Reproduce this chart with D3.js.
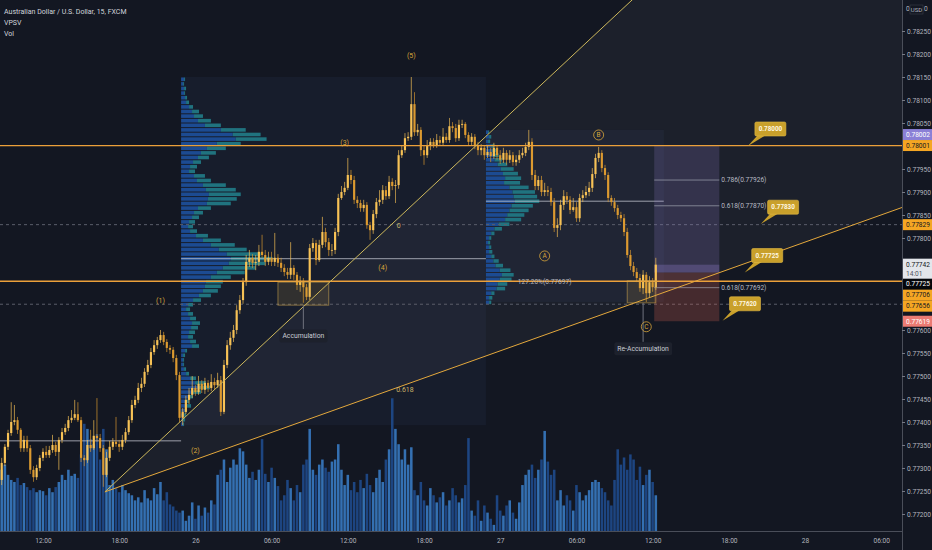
<!DOCTYPE html>
<html><head><meta charset="utf-8">
<script src="https://cdn.jsdelivr.net/npm/d3@7"></script>
<style>html,body{margin:0;padding:0;background:#131722;}svg{display:block;font-family:Roboto,"Noto Sans",sans-serif;}</style>
</head><body>
<svg id="c" width="932" height="550"></svg>
<script>
// ---------------- DATA ----------------
const symbolTitle = "Australian Dollar / U.S. Dollar, 15, FXCM";
const indicatorNames = ["VPSV", "Vol"];
const firstBar = "2021-05-25 08:45"; // 15-minute bars
const openP = [0.77274,0.77311,0.77346,0.77376,0.77400,0.77404,0.77383,0.77343,0.77361,0.77343,
0.77296,0.77280,0.77300,0.77322,0.77335,0.77328,0.77339,0.77350,0.77335,0.77361,
0.77378,0.77387,0.77404,0.77409,0.77417,0.77404,0.77322,0.77317,0.77350,0.77343,
0.77370,0.77365,0.77343,0.77285,0.77322,0.77346,0.77357,0.77352,0.77346,0.77361,
0.77378,0.77404,0.77437,0.77448,0.77474,0.77483,0.77509,0.77524,0.77552,0.77567,
0.77578,0.77589,0.77574,0.77561,0.77557,0.77539,0.77502,0.77409,0.77422,0.77448,
0.77459,0.77474,0.77465,0.77483,0.77470,0.77485,0.77474,0.77487,0.77480,0.77491,
0.77422,0.77524,0.77567,0.77583,0.77600,0.77643,0.77665,0.77704,0.77748,0.77757,
0.77746,0.77748,0.77770,0.77763,0.77748,0.77757,0.77748,0.77757,0.77746,0.77735,
0.77726,0.77720,0.77735,0.77720,0.77698,0.77707,0.77693,0.77672,0.77778,0.77789,
0.77752,0.77785,0.77813,0.77791,0.77774,0.77774,0.77813,0.77887,0.77900,0.77909,
0.77937,0.77926,0.77883,0.77876,0.77865,0.77872,0.77828,0.77817,0.77852,0.77878,
0.77883,0.77904,0.77891,0.77922,0.77913,0.77915,0.77980,0.77991,0.78017,0.78020,
0.78091,0.78030,0.78035,0.77991,0.77980,0.78002,0.78009,0.78002,0.78013,0.78007,
0.78020,0.78013,0.78043,0.78039,0.78017,0.78046,0.78048,0.78024,0.78009,0.78020,
0.78002,0.77991,0.77996,0.77980,0.77987,0.77978,0.77996,0.77980,0.77970,0.77985,
0.77970,0.77980,0.77965,0.77970,0.77980,0.77985,0.77998,0.78009,0.77937,0.77913,
0.77926,0.77900,0.77904,0.77900,0.77878,0.77822,0.77828,0.77872,0.77891,0.77883,
0.77861,0.77867,0.77843,0.77887,0.77893,0.77900,0.77909,0.77939,0.77974,0.77985,
0.77952,0.77937,0.77887,0.77878,0.77865,0.77850,0.77843,0.77813,0.77763,0.77739,
0.77726,0.77713,0.77691,0.77720,0.77680,0.77704,0.77693];
const highP = [0.77322,0.77352,0.77383,0.77443,0.77437,0.77411,0.77387,0.77370,0.77370,0.77350,
0.77304,0.77307,0.77328,0.77343,0.77348,0.77348,0.77372,0.77357,0.77367,0.77387,
0.77396,0.77413,0.77426,0.77448,0.77443,0.77411,0.77328,0.77361,0.77383,0.77404,
0.77452,0.77374,0.77350,0.77335,0.77359,0.77365,0.77411,0.77361,0.77372,0.77387,
0.77413,0.77448,0.77457,0.77485,0.77496,0.77517,0.77535,0.77561,0.77578,0.77585,
0.77600,0.77596,0.77580,0.77567,0.77563,0.77546,0.77509,0.77430,0.77457,0.77474,
0.77500,0.77480,0.77500,0.77491,0.77496,0.77491,0.77504,0.77496,0.77507,0.77500,
0.77535,0.77578,0.77596,0.77611,0.77654,0.77676,0.77713,0.77763,0.77774,0.77765,
0.77763,0.77785,0.77807,0.77774,0.77770,0.77770,0.77811,0.77765,0.77757,0.77743,
0.77735,0.77791,0.77741,0.77726,0.77717,0.77713,0.77700,0.77787,0.77800,0.77796,
0.77796,0.77846,0.77822,0.77800,0.77787,0.77822,0.77896,0.77913,0.77922,0.77974,
0.77948,0.77935,0.77891,0.77883,0.77883,0.77878,0.77835,0.77861,0.77887,0.77904,
0.77915,0.77913,0.77935,0.77930,0.77926,0.77991,0.78000,0.78028,0.78030,0.78150,
0.78117,0.78048,0.78041,0.78002,0.78013,0.78017,0.78017,0.78026,0.78022,0.78039,
0.78028,0.78061,0.78052,0.78048,0.78057,0.78057,0.78052,0.78030,0.78028,0.78026,
0.78009,0.78004,0.78002,0.78000,0.77996,0.78007,0.78000,0.77991,0.77996,0.77991,
0.77991,0.77987,0.77980,0.77991,0.77996,0.78007,0.78035,0.78017,0.77948,0.77935,
0.77935,0.77920,0.77913,0.77909,0.77887,0.77843,0.77883,0.77904,0.77900,0.77891,
0.77887,0.77878,0.77896,0.77904,0.77913,0.77922,0.77952,0.77983,0.77998,0.77991,
0.77959,0.77943,0.77893,0.77887,0.77872,0.77857,0.77852,0.77822,0.77774,0.77748,
0.77735,0.77722,0.77730,0.77726,0.77717,0.77713,0.77757];
const lowP = [0.77263,0.77304,0.77339,0.77370,0.77393,0.77374,0.77335,0.77335,0.77335,0.77287,
0.77270,0.77274,0.77293,0.77315,0.77322,0.77322,0.77333,0.77326,0.77296,0.77354,
0.77372,0.77380,0.77398,0.77404,0.77400,0.77313,0.77304,0.77311,0.77335,0.77339,
0.77357,0.77335,0.77259,0.77280,0.77315,0.77339,0.77346,0.77335,0.77339,0.77354,
0.77372,0.77398,0.77430,0.77441,0.77465,0.77476,0.77502,0.77517,0.77546,0.77559,
0.77572,0.77567,0.77552,0.77548,0.77530,0.77491,0.77400,0.77393,0.77417,0.77439,
0.77452,0.77457,0.77459,0.77463,0.77461,0.77465,0.77467,0.77470,0.77474,0.77413,
0.77417,0.77517,0.77557,0.77574,0.77591,0.77635,0.77657,0.77696,0.77737,0.77735,
0.77730,0.77739,0.77757,0.77739,0.77741,0.77739,0.77739,0.77737,0.77726,0.77717,
0.77711,0.77711,0.77709,0.77687,0.77683,0.77659,0.77665,0.77665,0.77770,0.77741,
0.77748,0.77778,0.77780,0.77761,0.77761,0.77765,0.77804,0.77883,0.77893,0.77904,
0.77917,0.77874,0.77865,0.77857,0.77857,0.77820,0.77796,0.77809,0.77843,0.77870,
0.77874,0.77883,0.77885,0.77904,0.77876,0.77907,0.77974,0.77985,0.78011,0.78013,
0.78022,0.78022,0.77978,0.77959,0.77974,0.77991,0.77996,0.77996,0.78000,0.78000,
0.78007,0.78007,0.78030,0.78009,0.78011,0.78039,0.78017,0.78002,0.78000,0.77993,
0.77980,0.77980,0.77970,0.77974,0.77965,0.77972,0.77970,0.77961,0.77963,0.77959,
0.77963,0.77957,0.77957,0.77963,0.77974,0.77978,0.77991,0.77926,0.77904,0.77904,
0.77891,0.77891,0.77891,0.77870,0.77813,0.77802,0.77817,0.77861,0.77874,0.77852,
0.77857,0.77835,0.77835,0.77878,0.77887,0.77891,0.77900,0.77930,0.77965,0.77943,
0.77926,0.77878,0.77870,0.77857,0.77841,0.77835,0.77804,0.77757,0.77730,0.77717,
0.77704,0.77683,0.77678,0.77661,0.77670,0.77683,0.77687];
const closeP = [0.77311,0.77346,0.77376,0.77400,0.77404,0.77383,0.77343,0.77361,0.77343,0.77296,
0.77280,0.77300,0.77322,0.77335,0.77328,0.77339,0.77350,0.77335,0.77361,0.77378,
0.77387,0.77404,0.77409,0.77417,0.77404,0.77322,0.77317,0.77350,0.77343,0.77370,
0.77365,0.77343,0.77285,0.77322,0.77346,0.77357,0.77352,0.77346,0.77361,0.77378,
0.77404,0.77437,0.77448,0.77474,0.77483,0.77509,0.77524,0.77552,0.77567,0.77578,
0.77589,0.77574,0.77561,0.77557,0.77539,0.77502,0.77409,0.77422,0.77448,0.77459,
0.77474,0.77465,0.77483,0.77470,0.77485,0.77474,0.77487,0.77480,0.77491,0.77422,
0.77524,0.77567,0.77583,0.77600,0.77643,0.77665,0.77704,0.77748,0.77757,0.77746,
0.77748,0.77770,0.77763,0.77748,0.77757,0.77748,0.77757,0.77746,0.77735,0.77726,
0.77720,0.77735,0.77720,0.77698,0.77707,0.77693,0.77672,0.77778,0.77789,0.77752,
0.77785,0.77813,0.77791,0.77774,0.77774,0.77813,0.77887,0.77900,0.77909,0.77937,
0.77926,0.77883,0.77876,0.77865,0.77872,0.77828,0.77817,0.77852,0.77878,0.77883,
0.77904,0.77891,0.77922,0.77913,0.77915,0.77980,0.77991,0.78017,0.78020,0.78091,
0.78030,0.78035,0.77991,0.77980,0.78002,0.78009,0.78002,0.78013,0.78007,0.78020,
0.78013,0.78043,0.78039,0.78017,0.78046,0.78048,0.78024,0.78009,0.78020,0.78002,
0.77991,0.77996,0.77980,0.77987,0.77978,0.77996,0.77980,0.77970,0.77985,0.77970,
0.77980,0.77965,0.77970,0.77980,0.77985,0.77998,0.78009,0.77937,0.77913,0.77926,
0.77900,0.77904,0.77900,0.77878,0.77822,0.77828,0.77872,0.77891,0.77883,0.77861,
0.77867,0.77843,0.77887,0.77893,0.77900,0.77909,0.77939,0.77974,0.77985,0.77952,
0.77937,0.77887,0.77878,0.77865,0.77850,0.77843,0.77813,0.77763,0.77739,0.77726,
0.77713,0.77691,0.77720,0.77680,0.77704,0.77693,0.77742];
const volume = [600,650,550,500,480,520,450,470,430,400,420,380,400,390,350,420,380,430,480,550,
500,600,540,560,520,750,1050,1000,900,850,950,700,1000,800,450,500,420,380,450,400,
370,350,300,330,280,400,320,300,420,360,480,300,380,260,240,200,180,200,100,150,
280,120,250,150,230,180,300,260,550,600,700,480,620,700,650,810,780,650,520,580,
500,600,900,560,480,620,520,440,300,350,500,420,300,450,380,650,700,1000,600,550,
650,700,620,580,680,700,850,600,450,550,400,480,380,500,420,560,450,380,520,600,
480,700,800,1300,1000,850,700,800,650,820,400,350,480,300,250,420,350,280,330,380,
250,300,420,350,280,320,450,910,200,150,300,100,250,180,120,60,350,200,150,250,
300,180,120,280,450,550,600,650,520,600,700,980,680,550,600,300,400,250,350,300,
200,450,380,300,350,400,480,500,480,420,380,300,250,500,800,650,720,600,750,700,
500,630,450,550,600,480,350];

// Session volume profiles (rows of 1 pip from session high downwards)
const sessionStart = [57, 153];
const sessionEnd = [152, 206];
const vpRowStep = 0.0001;
const vp1Total = [4,3,5,4,6,8,12,18,22,30,40,65,80,86,60,45,35,28,20,16,14,24,30,45,55,60,56,50,30,22,18,14,12,16,27,40,54,66,80,92,85,75,64,50,42,40,37,30,20,12,9,12,15,19,17,14,12,15,18,6,4,3,3,5,8,15,25,29,20,12,8,10,6,5,4,3];
const vp1Up    = [3,2,3,3,4,5,8,11,13,17,24,40,52,55,36,26,20,17,12,9,8,13,16,22,25,28,27,26,17,13,11,8,7,9,15,22,30,38,46,50,48,42,36,30,25,24,22,18,12,7,5,7,9,11,10,8,7,9,11,4,2,2,2,3,5,9,14,17,12,7,5,6,4,3,2,2];
const vp2Total = [3,5,4,8,10,12,15,20,26,30,33,32,40,46,48,50,44,40,36,33,22,15,8,5,4,5,6,8,12,16,23,26,24,20,18,8,6,5];
const vp2Up    = [2,3,2,5,6,7,8,11,14,16,18,17,22,25,26,27,24,22,20,18,12,8,5,3,2,3,3,5,7,9,13,15,13,11,10,5,3,3];
const prevSessionPOC = 0.77359;

// Drawing tools
const hLevels = [0.78001, 0.77706];
const dashedLevels = [0.77829, 0.77656];
const fanApex = {bar: 32.5, price: 0.77248};
const fanSteep = {bar: 157, price: 0.78050};
const fanShallow = {bar: 283, price: 0.77865};
const fanLabels = [{text: "0", bar: 125, price: 0.77828}, {text: "0.618", bar: 127, price: 0.77470}];
const waveLabels = [
  {text: "(1)", bar: 50, price: 0.77665},
  {text: "(2)", bar: 61, price: 0.77337},
  {text: "(3)", bar: 108, price: 0.78007},
  {text: "(4)", bar: 120, price: 0.77735},
  {text: "(5)", bar: 129, price: 0.78196}
];
const circleLabels = [
  {text: "A", bar: 171, price: 0.77761},
  {text: "B", bar: 188, price: 0.78024},
  {text: "C", bar: 203, price: 0.77607}
];
const accBoxes = [
  {b0: 87, b1: 103, top: 0.77704, bottom: 0.77654, text: "Accumulation", lineBar: 95, labelPrice: 0.77587},
  {b0: 197, b1: 206, top: 0.77707, bottom: 0.77659, text: "Re-Accumulation", lineBar: 202, labelPrice: 0.77559}
];
const extLabel = {text: "127.20%(0.77697)", bar: 171, price: 0.77697};
const position = {b0: 206, b1: 226, entry: 0.77725, target: 0.78002, stop: 0.77619};
const positionFibs = [{lvl: "0.786", price: 0.77926}, {lvl: "0.618", price: 0.77870}, {lvl: "0.618", price: 0.77692}];
const callouts = [
  {text: "0.78000", bar: 235, price: 0.78000},
  {text: "0.77830", bar: 239, price: 0.77830},
  {text: "0.77725", bar: 234, price: 0.77725},
  {text: "0.77620", bar: 227, price: 0.77620}
];
const priceTicks = [0.7825,0.782,0.7815,0.781,0.7805,0.78,0.7795,0.779,0.7785,0.778,0.7775,0.777,0.7765,0.776,0.7755,0.775,0.7745,0.774,0.7735,0.773,0.7725,0.772];
const timeTicks = ["2021-05-25 12:00","2021-05-25 18:00","2021-05-26 00:00","2021-05-26 06:00","2021-05-26 12:00","2021-05-26 18:00","2021-05-27 00:00","2021-05-27 06:00","2021-05-27 12:00","2021-05-27 18:00","2021-05-28 00:00","2021-05-28 06:00"];
const timeTickLabels = ["12:00","18:00","26","06:00","12:00","18:00","27","06:00","12:00","18:00","28","06:00"];
const axisTags = [
  {price: 0.78002, bg: "#8b80d6", fg: "#ffffff"},
  {price: 0.78001, bg: "#f5a623", fg: "#131722"},
  {price: 0.77829, bg: "#f5a623", fg: "#131722"},
  {price: 0.77725, bg: "#05070b", fg: "#ffffff"},
  {price: 0.77706, bg: "#f5a623", fg: "#131722"},
  {price: 0.77656, bg: "#f5a623", fg: "#131722"},
  {price: 0.77619, bg: "#ec7b73", fg: "#ffffff"}
];
const countdown = "14:01";
const visibleRange = ["2021-05-25 08:37", "2021-05-28 07:38"];
const priceRange = [0.77163, 0.783174];

// ---------------- CHART ----------------
const W = 932, H = 550, PW = 902, PH = 531;
const parse = d3.timeParse("%Y-%m-%d %H:%M");
const T0 = parse(firstBar);
const bt = b => new Date(T0.getTime() + b * 900000);
const x = d3.scaleTime().domain(visibleRange.map(parse)).range([0, PW]);
const y = d3.scaleLinear().domain(priceRange).range([PH, 0]);
const N = closeP.length;
const bw = x(bt(1)) - x(bt(0));
const yv = d3.scaleLinear().domain([0, d3.max(volume)]).range([PH, PH * 0.75]);
const fmt = d3.format(".5f");

const svg = d3.select("#c");
svg.append("rect").attr("width", W).attr("height", H).attr("fill", "#131722");
svg.append("defs").append("clipPath").attr("id", "clip").append("rect").attr("width", PW).attr("height", PH);
const plot = svg.append("g").attr("clip-path", "url(#clip)");

// session boxes + profiles
const sessions = [
  {s: sessionStart[0], e: sessionEnd[0], tot: vp1Total, up: vp1Up, ext: 0.5},
  {s: sessionStart[1], e: sessionEnd[1], tot: vp2Total, up: vp2Up, ext: 2.5}
];
sessions.forEach(ss => {
  ss.hi = d3.max(highP.slice(ss.s, ss.e + 1));
  ss.lo = d3.min(lowP.slice(ss.s, ss.e + 1));
  ss.x0 = x(bt(ss.s)) - bw / 2;
  ss.x1 = x(bt(ss.e)) + bw * ss.ext;
});
const gBoxes = plot.append("g");
sessions.forEach(ss => {
  gBoxes.append("rect").attr("x", ss.x0).attr("y", y(ss.hi)).attr("width", ss.x1 - ss.x0)
    .attr("height", y(ss.lo) - y(ss.hi)).attr("fill", "rgba(110,140,200,0.06)");
});

// fan fill
const fanAt = (p1, b) => fanApex.price + (p1.price - fanApex.price) * (b - fanApex.bar) / (p1.bar - fanApex.bar);
const farBar = 420;
const fanPts = [[fanApex.bar, fanApex.price], [farBar, fanAt(fanSteep, farBar)], [farBar, fanAt(fanShallow, farBar)]];
plot.append("path").attr("d", d3.line().x(d => x(bt(d[0]))).y(d => y(d[1]))(fanPts) + "Z")
  .attr("fill", "rgba(150,155,170,0.07)");

// volume
plot.append("g").selectAll("rect").data(d3.range(N)).join("rect")
  .attr("x", i => x(bt(i)) - bw * 0.4).attr("width", bw * 0.8)
  .attr("y", i => yv(volume[i])).attr("height", i => PH - yv(volume[i]))
  .attr("fill", i => closeP[i] >= openP[i] ? "#3470b2" : "#1d4581");

// volume profile rows
const gVP = plot.append("g");
sessions.forEach(ss => {
  const mx = d3.max(ss.tot);
  const unit = 0.3 * (ss.x1 - ss.x0) / mx;
  ss.tot.forEach((t, k) => {
    const pTop = ss.hi - k * vpRowStep, pBot = pTop - vpRowStep;
    const yt = y(pTop) + 0.5, h = Math.max(0.8, y(pBot) - y(pTop) - 1);
    const wu = ss.up[k] * unit, wd = (t - ss.up[k]) * unit;
    gVP.append("rect").attr("x", ss.x0).attr("y", yt).attr("width", wu).attr("height", h).attr("fill", "#1c4b92");
    gVP.append("rect").attr("x", ss.x0 + wu).attr("y", yt).attr("width", wd).attr("height", h).attr("fill", "#20737f");
  });
  const kPoc = d3.maxIndex(ss.tot);
  ss.poc = ss.hi - (kPoc + 0.5) * vpRowStep;
});
// POC lines
const gLines = plot.append("g");
sessions.forEach(ss => {
  gLines.append("line").attr("x1", ss.x0).attr("x2", ss.x1).attr("y1", y(ss.poc)).attr("y2", y(ss.poc))
    .attr("stroke", "rgba(200,203,212,0.75)").attr("stroke-width", 1);
});
gLines.append("line").attr("x1", 0).attr("x2", sessions[0].x0).attr("y1", y(prevSessionPOC)).attr("y2", y(prevSessionPOC))
  .attr("stroke", "rgba(200,203,212,0.75)").attr("stroke-width", 1);

// dashed levels
dashedLevels.forEach(p => {
  gLines.append("line").attr("x1", 0).attr("x2", PW).attr("y1", y(p)).attr("y2", y(p))
    .attr("stroke", "#5a5e6a").attr("stroke-width", 1).attr("stroke-dasharray", "3,3");
});

// position tool
const px0 = x(bt(position.b0)) - bw / 2, px1 = x(bt(position.b1));
const lastC = closeP[N - 1];
const gPos = plot.append("g");
gPos.append("rect").attr("x", px0).attr("width", px1 - px0).attr("y", y(position.target))
  .attr("height", y(position.entry) - y(position.target)).attr("fill", "rgba(150,130,210,0.20)");
gPos.append("rect").attr("x", px0).attr("width", px1 - px0).attr("y", y(position.entry))
  .attr("height", y(position.stop) - y(position.entry)).attr("fill", "rgba(200,92,80,0.28)");
gPos.append("rect").attr("x", px0).attr("width", px1 - px0).attr("y", y(lastC))
  .attr("height", y(position.entry) - y(lastC)).attr("fill", "rgba(150,130,210,0.30)");
positionFibs.forEach(f => {
  gPos.append("line").attr("x1", px0).attr("x2", px1).attr("y1", y(f.price)).attr("y2", y(f.price))
    .attr("stroke", "rgba(190,193,202,0.55)").attr("stroke-width", 1);
  gPos.append("text").attr("x", px1 + 2).attr("y", y(f.price)).attr("dy", "0.35em")
    .attr("font-size", 6.6).attr("fill", "#b7bac3").text(`${f.lvl}(${fmt(f.price)})`);
});

// candles
const gC = plot.append("g");
d3.range(N).forEach(i => {
  const up = closeP[i] >= openP[i];
  const col = up ? "#f7c256" : "#dc9a30";
  const cx = x(bt(i));
  gC.append("line").attr("x1", cx).attr("x2", cx).attr("y1", y(highP[i])).attr("y2", y(lowP[i]))
    .attr("stroke", col).attr("stroke-width", 0.8).attr("opacity", 0.85);
  const yt = y(Math.max(openP[i], closeP[i])), yb = y(Math.min(openP[i], closeP[i]));
  gC.append("rect").attr("x", cx - bw * 0.34).attr("width", bw * 0.68).attr("y", yt)
    .attr("height", Math.max(0.8, yb - yt)).attr("fill", col);
});

// horizontal orange levels
hLevels.forEach(p => {
  plot.append("line").attr("x1", 0).attr("x2", PW).attr("y1", y(p)).attr("y2", y(p))
    .attr("stroke", "#eba03a").attr("stroke-width", 1.3);
});

// fan lines
[[fanSteep, "#cdb85c"], [fanShallow, "#e4a83c"]].forEach(([pt, col]) => {
  plot.append("line").attr("x1", x(bt(fanApex.bar))).attr("y1", y(fanApex.price))
    .attr("x2", x(bt(farBar))).attr("y2", y(fanAt(pt, farBar)))
    .attr("stroke", col).attr("stroke-width", 1);
});
fanLabels.forEach(l => {
  plot.append("text").attr("x", x(bt(l.bar))).attr("y", y(l.price)).attr("dy", "0.35em")
    .attr("text-anchor", "middle").attr("font-size", 7).attr("fill", "#cdb56a").text(l.text);
});

// accumulation boxes + labels
accBoxes.forEach(a => {
  const ax0 = x(bt(a.b0)), ax1 = x(bt(a.b1));
  plot.append("rect").attr("x", ax0).attr("y", y(a.top)).attr("width", ax1 - ax0).attr("height", y(a.bottom) - y(a.top))
    .attr("fill", "rgba(210,170,70,0.14)").attr("stroke", "rgba(210,170,80,0.55)").attr("stroke-width", 1);
  const lx = x(bt(a.lineBar)), ly = y(a.labelPrice);
  plot.append("line").attr("x1", lx).attr("x2", lx).attr("y1", y(a.bottom)).attr("y2", ly - 7)
    .attr("stroke", "#6f737e").attr("stroke-width", 1);
  const t = plot.append("text").attr("x", lx).attr("y", ly).attr("dy", "0.35em").attr("text-anchor", "middle")
    .attr("font-size", 6.8).attr("fill", "#c9ccd4").text(a.text);
  const bb = t.node().getBBox();
  plot.insert("rect", () => t.node()).attr("x", bb.x - 3).attr("y", ly - 6.5).attr("width", bb.width + 6).attr("height", 13)
    .attr("rx", 2).attr("fill", "#1d212c");
});
plot.append("text").attr("x", x(bt(extLabel.bar))).attr("y", y(extLabel.price) - 1.5).attr("text-anchor", "middle")
  .attr("font-size", 6.6).attr("fill", "#b2b5be").text(extLabel.text);

// wave labels
waveLabels.forEach(l => {
  plot.append("text").attr("x", x(bt(l.bar))).attr("y", y(l.price)).attr("dy", "0.35em")
    .attr("text-anchor", "middle").attr("font-size", 7).attr("fill", "#d9a63a").text(l.text);
});
circleLabels.forEach(l => {
  const cx = x(bt(l.bar)), cy = y(l.price);
  plot.append("circle").attr("cx", cx).attr("cy", cy).attr("r", 5).attr("fill", "none").attr("stroke", "#d9a63a").attr("stroke-width", 0.8);
  plot.append("text").attr("x", cx).attr("y", cy).attr("dy", "0.36em").attr("text-anchor", "middle")
    .attr("font-size", 6.5).attr("fill", "#d9a63a").text(l.text);
});

// callouts
callouts.forEach(c => {
  const tx = x(bt(c.bar)), ty = y(c.price);
  const bx = tx + 7, by = ty - 24, bwid = 31, bh = 14;
  plot.append("path").attr("d", `M${bx + 3},${by + bh - 1}L${tx},${ty}L${bx + 11},${by + bh - 1}Z`).attr("fill", "#c9a02b");
  plot.append("rect").attr("x", bx).attr("y", by).attr("width", bwid).attr("height", bh).attr("rx", 1.5)
    .attr("fill", "#c9a02b").attr("stroke", "#e2bb45").attr("stroke-width", 0.6);
  plot.append("text").attr("x", bx + bwid / 2).attr("y", by + bh / 2).attr("dy", "0.35em").attr("text-anchor", "middle")
    .attr("font-size", 6.3).attr("font-weight", "bold").attr("fill", "#fff8e0").text(c.text);
});

// ---------------- AXES ----------------
svg.append("line").attr("x1", PW + 0.5).attr("x2", PW + 0.5).attr("y1", 0).attr("y2", H).attr("stroke", "#4a4e59");
svg.append("line").attr("x1", 0).attr("x2", PW).attr("y1", PH + 0.5).attr("y2", PH + 0.5).attr("stroke", "#4a4e59");

// tags placement
const curY = y(lastC);
const tagH = 11;
const above = axisTags.filter(t => t.price > lastC).sort((a, b) => a.price - b.price);
const below = axisTags.filter(t => t.price < lastC).sort((a, b) => b.price - a.price);
let lim = curY - 6;
above.forEach(t => { t.cy = Math.min(y(t.price), lim - tagH / 2); lim = t.cy - tagH / 2; });
lim = curY + 14;
below.forEach(t => { t.cy = Math.max(y(t.price), lim + tagH / 2); lim = t.cy + tagH / 2; });

const occupied = axisTags.map(t => t.cy).concat([curY, curY + 8]);
const visTicks = priceTicks.filter(p => occupied.every(c => Math.abs(y(p) - c) >= 8.5));
const yAxis = d3.axisRight(y).tickValues(visTicks).tickFormat(fmt).tickSize(3).tickPadding(2);
const gy = svg.append("g").attr("transform", `translate(${PW},0)`).call(yAxis);
gy.select(".domain").remove();
gy.selectAll("line").attr("stroke", "#787b86");
gy.selectAll("text").attr("fill", "#b2b5be").attr("font-size", 6.6).attr("font-family", "Roboto, sans-serif");

// currency label
svg.append("text").attr("x", 906).attr("y", 9).attr("dy", "0.35em").attr("font-size", 6.6).attr("fill", "#b2b5be").text("0");
svg.append("rect").attr("x", 910).attr("y", 5).attr("width", 13).attr("height", 9).attr("fill", "none").attr("stroke", "#3a3e4a").attr("stroke-width", 0.6);
svg.append("text").attr("x", 916.5).attr("y", 9.5).attr("dy", "0.35em").attr("text-anchor", "middle").attr("font-size", 6).attr("fill", "#b2b5be").text("USD");
svg.append("text").attr("x", 924).attr("y", 9).attr("dy", "0.35em").attr("font-size", 6.6).attr("fill", "#b2b5be").text("0");

axisTags.forEach(t => {
  svg.append("rect").attr("x", PW + 1).attr("y", t.cy - tagH / 2).attr("width", W - PW - 1).attr("height", tagH).attr("fill", t.bg);
  svg.append("text").attr("x", PW + 4).attr("y", t.cy).attr("dy", "0.35em").attr("font-size", 6.6).attr("fill", t.fg).text(fmt(t.price));
});
svg.append("rect").attr("x", PW + 1).attr("y", curY - 6).attr("width", W - PW - 1).attr("height", 20).attr("fill", "#e4e6eb");
svg.append("text").attr("x", PW + 4).attr("y", curY).attr("dy", "0.35em").attr("font-size", 6.6).attr("fill", "#131722").text(fmt(lastC));
svg.append("text").attr("x", PW + 4).attr("y", curY + 9).attr("dy", "0.35em").attr("font-size", 6.6).attr("fill", "#50535e").text(countdown);

// time axis
const xAxis = d3.axisBottom(x).tickValues(timeTicks.map(parse)).tickFormat((d, i) => timeTickLabels[i]).tickSize(0).tickPadding(7);
const gx = svg.append("g").attr("transform", `translate(0,${PH})`).call(xAxis);
gx.select(".domain").remove();
gx.selectAll("text").attr("fill", "#b2b5be").attr("font-size", 6.6).attr("font-family", "Roboto, sans-serif");

// legend
svg.append("text").attr("x", 4).attr("y", 14).attr("font-size", 7).attr("fill", "#d1d4dc").text(symbolTitle);
indicatorNames.forEach((n, i) => {
  svg.append("text").attr("x", 4).attr("y", 25 + i * 11).attr("font-size", 7).attr("fill", "#d1d4dc").text(n);
});
</script>
</body></html>
